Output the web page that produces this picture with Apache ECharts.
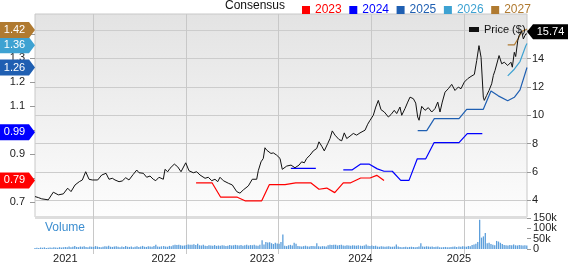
<!DOCTYPE html>
<html><head><meta charset="utf-8">
<script src="https://cdn.jsdelivr.net/npm/echarts@6/dist/echarts.min.js"></script>
<style>html,body{margin:0;padding:0;background:#fff}#c{width:568px;height:264px}</style>
</head><body><div id="c"></div>
<script>
// ---- axis ranges / tick labels ----
const xMin = 2020.692, xMax = 2025.692;
const epsMin = 0.6375, epsMax = 1.483;
const priceMin = 2.83, priceMax = 17.14;
const volMax = 150000;
const yearTicks = [2021, 2022, 2023, 2024, 2025];
const epsTicks = [0.7, 0.8, 0.9, 1.0, 1.1, 1.2, 1.3, 1.4];
const priceTicks = [4, 6, 8, 10, 12, 14, 16];
const volTicksA = [0, 100000];
const volTicksB = [50000, 150000];

// ---- price (right axis) ----
const priceDates = [2020.692,2020.726,2020.760,2020.827,2020.878,2020.929,2020.980,2021.024,2021.058,2021.099,2021.142,2021.173,2021.207,2021.241,2021.274,2021.329,2021.370,2021.414,2021.444,2021.478,2021.505,2021.546,2021.579,2021.614,2021.647,2021.691,2021.726,2021.749,2021.793,2021.827,2021.861,2021.894,2021.919,2021.952,2021.996,2022.013,2022.041,2022.064,2022.108,2022.142,2022.176,2022.224,2022.257,2022.301,2022.335,2022.369,2022.420,2022.453,2022.488,2022.521,2022.549,2022.572,2022.606,2022.657,2022.697,2022.742,2022.775,2022.809,2022.860,2022.900,2022.945,2022.961,2022.989,2023.012,2023.029,2023.047,2023.063,2023.090,2023.114,2023.148,2023.182,2023.205,2023.250,2023.294,2023.334,2023.375,2023.402,2023.429,2023.453,2023.487,2023.520,2023.555,2023.578,2023.606,2023.632,2023.667,2023.690,2023.713,2023.741,2023.782,2023.809,2023.835,2023.860,2023.893,2023.927,2023.961,2023.995,2024.012,2024.046,2024.073,2024.097,2024.130,2024.155,2024.181,2024.208,2024.242,2024.283,2024.310,2024.343,2024.368,2024.401,2024.419,2024.452,2024.480,2024.503,2024.537,2024.561,2024.581,2024.595,2024.622,2024.656,2024.689,2024.724,2024.757,2024.785,2024.808,2024.831,2024.859,2024.892,2024.927,2024.960,2024.994,2025.021,2025.055,2025.089,2025.123,2025.157,2025.181,2025.204,2025.225,2025.248,2025.258,2025.282,2025.306,2025.333,2025.350,2025.367,2025.384,2025.408,2025.435,2025.461,2025.496,2025.529,2025.543,2025.563,2025.577,2025.598,2025.611,2025.638,2025.655,2025.679,2025.692];
const prices = [4.27,4.20,4.11,4.04,4.58,4.39,4.46,4.86,4.62,5.09,5.32,5.44,6.02,5.49,5.44,5.44,5.79,5.91,5.49,5.56,5.44,5.32,5.37,5.60,5.44,5.84,6.14,5.95,5.91,5.63,5.72,5.49,5.39,5.63,5.49,6.19,6.02,6.26,6.56,6.37,6.02,6.65,6.09,5.95,6.02,5.79,5.56,5.63,5.39,5.49,5.32,5.63,5.39,5.21,5.09,4.62,4.51,4.74,5.02,5.49,5.49,6.09,6.72,6.96,7.71,7.54,7.49,7.31,7.35,7.19,6.96,6.19,6.42,6.49,6.30,6.49,6.72,6.65,6.96,7.19,7.49,7.66,8.13,7.82,7.49,8.01,8.36,8.90,8.60,8.29,8.20,8.76,8.36,8.53,8.72,8.60,8.76,8.83,8.95,9.37,9.65,10.00,10.58,11.05,10.40,10.23,9.88,10.05,10.35,10.12,10.58,10.00,10.47,10.93,11.28,11.17,10.86,9.88,9.65,10.63,10.35,10.54,10.23,10.47,10.93,10.23,10.93,11.63,11.87,12.18,11.75,11.99,11.87,12.34,12.58,12.74,12.88,13.86,14.91,14.09,11.28,11.05,11.40,11.75,12.22,12.81,13.16,13.28,14.21,13.63,13.74,13.51,13.74,13.39,14.44,14.14,15.26,15.61,15.92,15.38,15.73,15.74];
const lastPrice = 15.74;

// ---- consensus EPS (left axis) ----
const eps2023Dates = [2022.329,2022.491,2022.579,2022.748,2022.826,2022.996,2023.073,2023.233,2023.341,2023.494,2023.578,2023.657,2023.738,2023.825,2023.900,2024.002,2024.097,2024.165,2024.239];
const eps2023 = [0.78,0.78,0.72,0.72,0.705,0.705,0.772,0.772,0.78,0.78,0.753,0.758,0.739,0.78,0.78,0.80,0.80,0.811,0.79];
const eps2024Dates = [2023.292,2023.546,2023.680,2023.825,2023.917,2024.002,2024.086,2024.171,2024.239,2024.323,2024.409,2024.493,2024.577,2024.663,2024.747,2025.001,2025.085,2025.238];
const eps2024 = [0.84,0.84,null,0.834,0.834,0.858,0.858,0.838,0.828,0.828,0.79,0.79,0.88,0.88,0.947,0.947,0.985,0.985];
const eps2025Dates = [2024.581,2024.673,2024.750,2025.001,2025.079,2025.248,2025.326,2025.400,2025.496,2025.563,2025.621,2025.692];
const eps2025 = [0.997,0.997,1.047,1.047,1.086,1.086,1.162,1.142,1.122,1.136,1.167,1.26];
const eps2026Dates = [2025.496,2025.563,2025.621,2025.679,2025.692];
const eps2026 = [1.225,1.253,1.285,1.35,1.36];
const eps2027Dates = [2025.496,2025.563,2025.604,2025.638,2025.692];
const eps2027 = [1.354,1.354,1.382,1.41,1.42];
const epsLast = {'2023': 0.79, '2024': 0.99, '2025': 1.26, '2026': 1.36, '2027': 1.42};

// ---- weekly volume, grouped by year (start of each group) ----
const volStarts = [2020.692, 2021, 2022, 2023, 2024, 2025];
const vol2020 = [5,6,5,7,6,8,5,6,7,6,8,7,6,9,7,8];
const vol2021 = [10,8,12,9,11,14,10,9,12,11,13,10,9,12,11,10,14,12,10,9,11,13,12,16,11,10,12,13,11,9,12,10,14,11,10,12,9,11,13,10,12,15,11,10,13,12,11,14,20,12,11,13];
const vol2022 = [14,12,11,15,13,18,20,19,21,18,16,17,19,22,20,20,23,19,26,18,17,20,16,15,18,17,16,19,15,17,16,18,17,15,16,19,17,18,20,18,17,19,16,18,20,17,19,18,21,17,16,20];
const vol2023 = [42,22,34,31,33,28,24,30,27,25,34,70,16,14,18,20,17,30,25,15,13,12,14,16,13,12,15,14,13,28,13,12,14,13,12,18,20,19,21,20,17,19,20,17,16,18,17,16,18,17,16,18];
const vol2024 = [16,15,17,22,16,15,17,14,16,12,11,13,12,11,12,13,11,11,12,22,12,10,9,10,11,9,10,11,10,9,10,12,28,12,11,13,12,11,12,10,11,12,9,8,9,10,8,9,10,11,12,10];
const vol2025 = [12,11,13,12,11,14,13,19,22,25,34,141,55,61,77,28,30,24,20,18,39,36,30,24,19,18,17,19,18,22,18,17,19,18,17,18,17];

const colors = {'2023':'#ff0000','2024':'#0000ff','2025':'#1f5fb2','2026':'#3ea2d2','2027':'#b07a30'};
const FONT = 'Liberation Sans, Arial, sans-serif';

function pairs(xs, ys) { return xs.map((x, i) => [x, ys[i]]); }
const volGroups = [vol2020, vol2021, vol2022, vol2023, vol2024, vol2025];
const volData = [];
volGroups.forEach((g, gi) => g.forEach((v, k) => volData.push([volStarts[gi] + k / 52.18, v * 1000])));

const flagPath = 'path://M0,0 L29,0 L35,8 L29,16 L0,16 Z';
const tagPath = 'path://M0,7.5 L6,0 L41,0 L41,15 L6,15 Z';

// layout: main panel and volume panel
const L = 35, W = 492, T = 14, H = 203, VT = 218, VH = 36;
const pxPerYear = W / (xMax - xMin);
const pxPerPrice = H / (priceMax - priceMin);
// helper grids whose round extents put their split lines exactly on the tick values
const gX0 = 2020, gX1 = 2026, gP0 = 2, gP1 = 18;
const gridYearLeft = L - (xMin - gX0) * pxPerYear;
const gridPriceTop = T - (gP1 - priceMax) * pxPerPrice;

function epsSeries(name, xs, ys, dy) {
  const v = epsLast[name];
  return {
    name, type: 'line', xAxisIndex: 0, yAxisIndex: 0, data: pairs(xs, ys),
    showSymbol: false, connectNulls: false, z: 3,
    lineStyle: {color: colors[name], width: 1.2}, itemStyle: {color: colors[name]},
    markPoint: {
      silent: true, z: 10,
      symbol: flagPath, symbolSize: [35, 16], symbolOffset: [-17.5, dy],
      itemStyle: {color: colors[name]},
      label: {show: true, color: '#fff', fontSize: 11, fontFamily: FONT, offset: [-3, 0], formatter: () => v.toFixed(2)},
      data: [{coord: [xMin, v], value: v}]
    }
  };
}
const hiddenAxis = (gi, extra) => Object.assign({type: 'value', gridIndex: gi, show: false}, extra || {});
const volLabel = {hideOverlap: false, formatter: v => v === 0 ? '0' : (v / 1000) + 'k', fontSize: 11, color: '#222', margin: 6, fontFamily: FONT};

const chart = echarts.init(document.getElementById('c'), null, {renderer: 'canvas'});
chart.setOption({
  animation: false,
  textStyle: {fontFamily: FONT},
  grid: [
    {left: L, top: T, width: W, height: H, show: true,
     backgroundColor: {type: 'linear', x: 0, y: 0, x2: 0, y2: 1, colorStops: [{offset: 0, color: '#e3e3e3'}, {offset: 1, color: '#fdfdfd'}]},
     borderColor: '#c8c8c8', borderWidth: 1},
    {left: L, top: VT, width: W, height: VH, show: false},
    {left: gridYearLeft, top: T, width: (gX1 - gX0) * pxPerYear, height: VT + VH - T, show: false},
    {left: L, top: gridPriceTop, width: W, height: (gP1 - gP0) * pxPerPrice, show: false}
  ],
  legend: [
    {data: ['2023','2024','2025','2026','2027'].map(n => ({name: n, textStyle: {color: colors[n]}})),
     left: 297, top: -1, icon: 'rect', itemWidth: 8, itemHeight: 8, itemGap: 7.6,
     textStyle: {fontSize: 12, fontFamily: FONT}, selectedMode: false},
    {data: ['Price ($)'], left: 464, top: 19, icon: 'rect', itemWidth: 10, itemHeight: 5,
     textStyle: {fontSize: 11, fontFamily: FONT, color: '#111'}, selectedMode: false}
  ],
  xAxis: [
    {type: 'value', gridIndex: 0, min: xMin, max: xMax,
     axisLine: {show: false}, axisTick: {show: false}, axisLabel: {show: false}, splitLine: {show: false}},
    {type: 'value', gridIndex: 1, min: xMin, max: xMax,
     axisLine: {show: false}, axisTick: {show: false, customValues: yearTicks},
     axisLabel: {show: true, customValues: yearTicks, formatter: v => String(Math.round(v)), fontSize: 11, color: '#222', margin: 4, fontFamily: FONT},
     splitLine: {show: false}},
    {type: 'value', gridIndex: 2, min: gX0, max: gX1, interval: 1, z: 2,
     axisLine: {show: false}, axisTick: {show: false}, axisLabel: {show: false},
     splitLine: {show: true, showMinLine: false, showMaxLine: false, lineStyle: {color: '#c8c8c8', width: 1}}},
    hiddenAxis(3)
  ],
  yAxis: [
    {type: 'value', gridIndex: 0, position: 'left', min: epsMin, max: epsMax,
     axisLine: {show: false},
     axisTick: {show: true, customValues: epsTicks, length: 5, lineStyle: {color: '#999'}},
     axisLabel: {customValues: epsTicks, formatter: v => v.toFixed(1), fontSize: 11, color: '#222', margin: 10, fontFamily: FONT},
     splitLine: {show: false}},
    {type: 'value', gridIndex: 0, position: 'right', min: priceMin, max: priceMax,
     axisLine: {show: false},
     axisTick: {show: true, customValues: priceTicks, length: 4, lineStyle: {color: '#999'}},
     axisLabel: {customValues: priceTicks, fontSize: 11, color: '#222', margin: 5, fontFamily: FONT},
     splitLine: {show: false}},
    {type: 'value', gridIndex: 1, position: 'right', min: 0, max: volMax,
     axisLine: {show: false},
     axisTick: {show: true, customValues: volTicksA, length: 4, lineStyle: {color: '#999'}},
     axisLabel: Object.assign({customValues: volTicksA}, volLabel), splitLine: {show: false}},
    {type: 'value', gridIndex: 1, position: 'right', min: 0, max: volMax,
     axisLine: {show: false},
     axisTick: {show: true, customValues: volTicksB, length: 4, lineStyle: {color: '#999'}},
     axisLabel: Object.assign({customValues: volTicksB}, volLabel), splitLine: {show: false}},
    hiddenAxis(2, {min: 0, max: 1}),
    {type: 'value', gridIndex: 3, min: gP0, max: gP1, interval: 2, z: 2,
     axisLine: {show: false}, axisTick: {show: false}, axisLabel: {show: false},
     splitLine: {show: true, showMinLine: false, showMaxLine: false, lineStyle: {color: '#cccccc', width: 1}}}
  ],
  graphic: [
    {type: 'text', left: 225, top: 0, style: {text: 'Consensus', fontSize: 12, fontFamily: FONT, fill: '#111'}},
    {type: 'rect', left: L, top: 216, z: 0, shape: {width: W, height: 3}, style: {fill: '#dddddd'}},
    {type: 'text', left: 45, top: 222, z: 20, style: {text: 'Volume', fontSize: 12, fontFamily: FONT, fill: '#3d8ed0'}}
  ],
  series: [
    {name: 'Volume', type: 'bar', xAxisIndex: 1, yAxisIndex: 2, data: volData, barWidth: 1.3,
     itemStyle: {color: '#5d9fdb'}, z: 2},
    epsSeries('2023', eps2023Dates, eps2023, 0),
    epsSeries('2024', eps2024Dates, eps2024, 0),
    epsSeries('2025', eps2025Dates, eps2025, 0),
    epsSeries('2026', eps2026Dates, eps2026, 1.7),
    epsSeries('2027', eps2027Dates, eps2027, 0.8),
    {name: 'Price ($)', type: 'line', xAxisIndex: 0, yAxisIndex: 1, data: pairs(priceDates, prices),
     showSymbol: false, z: 4, lineStyle: {color: '#111', width: 1}, itemStyle: {color: '#111'},
     markPoint: {
       silent: true, z: 10, symbol: tagPath, symbolSize: [41, 15], symbolOffset: [20.5, -2],
       itemStyle: {color: '#000'},
       label: {show: true, color: '#fff', fontSize: 11, fontFamily: FONT, offset: [3, 0], formatter: () => lastPrice.toFixed(2)},
       data: [{coord: [xMax, lastPrice], value: lastPrice}]
     }}
  ]
});
</script></body></html>
